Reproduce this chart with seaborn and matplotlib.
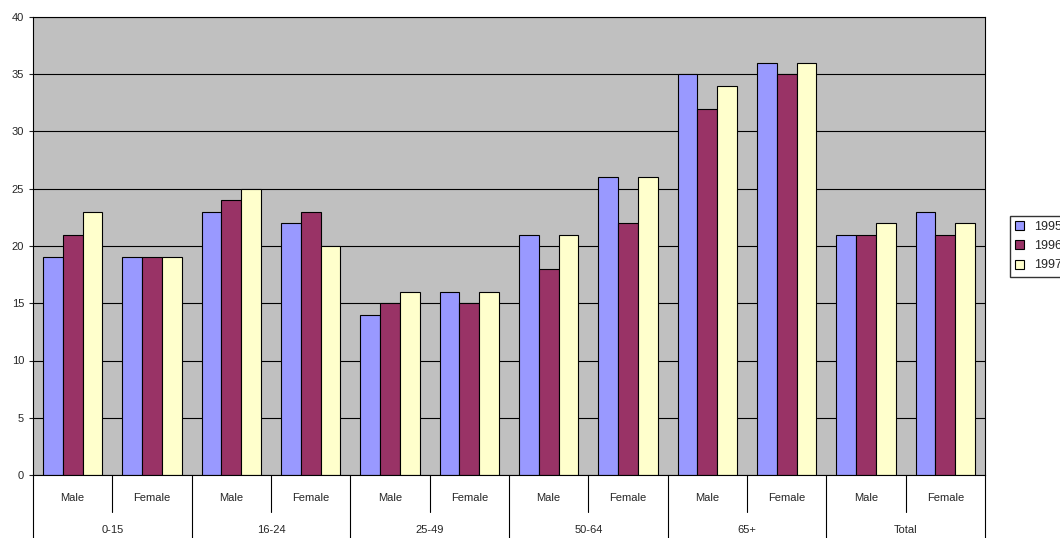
import matplotlib
matplotlib.use("Agg")
import matplotlib.pyplot as plt
import seaborn as sns
import pandas as pd

groups = ["0-15", "16-24", "25-49", "50-64", "65+", "Total"]
sexes = ["Male", "Female"]
years = ["1995", "1996", "1997"]
v1995 = [19, 19, 23, 22, 14, 16, 21, 26, 35, 36, 21, 23]
v1996 = [21, 19, 24, 23, 15, 15, 18, 22, 32, 35, 21, 21]
v1997 = [23, 19, 25, 20, 16, 16, 21, 26, 34, 36, 22, 22]
colors = ["#9999FF", "#993366", "#FFFFCC"]

cats = [f"{g}|{s}" for g in groups for s in sexes]
rows = []
for y, vals in zip(years, [v1995, v1996, v1997]):
    for c, v in zip(cats, vals):
        rows.append({"cat": c, "year": y, "value": v})
df = pd.DataFrame(rows)

sns.set_style("white")
plt.rcParams['font.family'] = ['Liberation Sans', 'DejaVu Sans']
fig = plt.figure(figsize=(10.6, 5.38), dpi=100)
ax = fig.add_axes([33/1060, 63/538, 952/1060, 458/538])
ax.set_facecolor("#C0C0C0")
sns.barplot(data=df, x="cat", y="value", hue="year", order=cats, hue_order=years,
            palette=colors, saturation=1, width=0.75, edgecolor="black", linewidth=0.8,
            ax=ax, legend=True)
ax.set_ylim(0, 40)
ax.set_xlim(-0.5, len(cats) - 0.5)
ax.set_yticks(range(0, 41, 5))
ax.tick_params(axis="y", labelsize=8, length=3, direction="out", left=True)
ax.yaxis.grid(True, color="black", linewidth=0.8)
ax.set_axisbelow(True)
ax.set_xticks([])
ax.set_xlabel("")
ax.set_ylabel("")
for s in ax.spines.values():
    s.set_color("black"); s.set_linewidth(0.8)

tr = ax.get_xaxis_transform()
for i, c in enumerate(cats):
    ax.text(i, -0.05, c.split("|")[1], ha="center", va="center", fontsize=8, transform=tr)
for j, g in enumerate(groups):
    ax.text(2*j + 0.5, -0.12, g, ha="center", va="center", fontsize=8, transform=tr)
for k in range(len(cats) + 1):
    x = k - 0.5
    low = -0.155 if k % 2 == 0 else -0.08
    ax.plot([x, x], [0, low], color="black", linewidth=0.8, transform=tr, clip_on=False)

ax.legend(loc="center left", bbox_to_anchor=(1.02, 0.5), frameon=True, fontsize=9,
          edgecolor="black", fancybox=False, handlelength=0.7, handleheight=0.7,
          borderpad=0.4, labelspacing=0.6, title=None)
fig.savefig("out.png", dpi=100)
